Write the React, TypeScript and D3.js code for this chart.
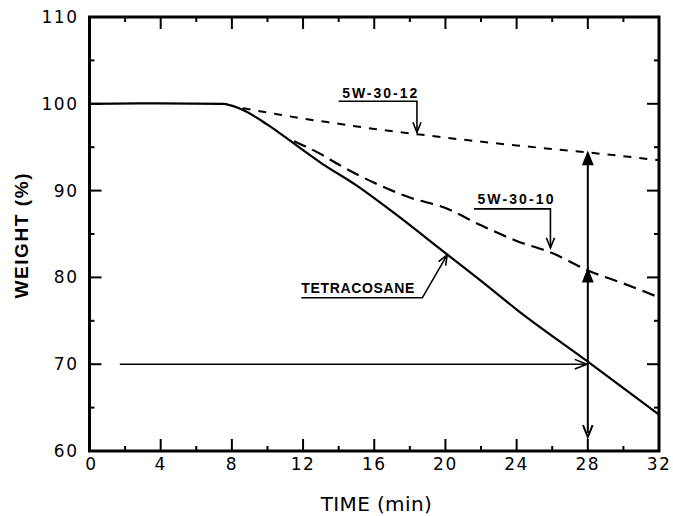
import * as d3 from 'd3';

// Data
const tetraTime = [0, 4, 7.5, 8.5, 10, 11.5, 13, 15, 17, 20, 22, 24, 28, 32];
const tetraWeight = [100, 100.05, 100, 99.4, 97.6, 95.4, 93.2, 90.6, 87.6, 82.8, 79.6, 76.3, 70.3, 64.2];

const w10Time = [11.5, 13, 14, 16, 18, 20, 22, 24, 26, 28, 30, 32];
const w10Weight = [95.7, 94.2, 93.0, 90.9, 89.2, 88.0, 86.0, 84.2, 82.8, 80.8, 79.3, 77.7];

const w12Time = [8.6, 10, 12, 14, 16, 18.4, 20, 24, 28, 32];
const w12Weight = [99.5, 99.0, 98.3, 97.7, 97.1, 96.5, 96.1, 95.2, 94.4, 93.5];

const xTicks = [0, 4, 8, 12, 16, 20, 24, 28, 32];
const xMinor = [2, 6, 10, 14, 18, 22, 26, 30];
const yTicks = [60, 70, 80, 90, 100, 110];
const yMinor = [65, 75, 85, 95, 105];

const W = 673;
const H = 516;
const M = { left: 89.5, right: 14, top: 17, bottom: 65 };

type Pt = [number, number];

function arrowHead(tip: Pt, from: Pt, size: number, filled: boolean) {
  const a = Math.atan2(tip[1] - from[1], tip[0] - from[0]);
  const s = 0.38;
  const p1: Pt = [tip[0] - size * Math.cos(a - s), tip[1] - size * Math.sin(a - s)];
  const p2: Pt = [tip[0] - size * Math.cos(a + s), tip[1] - size * Math.sin(a + s)];
  return filled
    ? `M${p1[0]},${p1[1]}L${tip[0]},${tip[1]}L${p2[0]},${p2[1]}Z`
    : `M${p1[0]},${p1[1]}L${tip[0]},${tip[1]}L${p2[0]},${p2[1]}`;
}

export default function App() {
  const x = d3.scaleLinear().domain([0, 32]).range([M.left, W - M.right]);
  const y = d3.scaleLinear().domain([60, 110]).range([H - M.bottom, M.top]);

  const line = d3
    .line<[number, number]>()
    .x((d) => x(d[0]))
    .y((d) => y(d[1]))
    .curve(d3.curveMonotoneX);

  const tetra = tetraTime.map((t, i) => [t, tetraWeight[i]] as [number, number]);
  const w10 = w10Time.map((t, i) => [t, w10Weight[i]] as [number, number]);
  const w12 = w12Time.map((t, i) => [t, w12Weight[i]] as [number, number]);

  const x0 = x(0);
  const x1 = x(32);
  const y0 = y(60);
  const y1 = y(110);

  const labelFont = "'Liberation Sans', Arial, sans-serif";
  const tickFont = "'DejaVu Sans', sans-serif";

  // annotation anchors (data units)
  const lbl12 = { tx: 14.2, ty: 100.65, ux0: 14.0, ux1: 18.4, uy: 100.3, tipY: 96.7 };
  const lbl10 = { tx: 21.8, ty: 88.5, ux0: 21.6, ux1: 25.9, uy: 87.9, tipY: 83.4 };
  const lblT = { tx: 11.9, ty: 78.2, ux0: 11.9, ux1: 18.7, uy: 77.65, tipX: 20.1, tipY: 82.6 };

  const vTop = y(94.4);
  const vMid = y(80.9);
  const vBot = y(61.6);
  const vx = x(28);
  const hy = y(70);
  const hx0 = x(1.7);

  return (
    <svg width={W} height={H} style={{ position: 'absolute', left: 0, top: 0, background: '#fff' }}>
      {/* ticks */}
      {xTicks.map((t) => (
        <g key={'xt' + t} stroke="#000" strokeWidth={2}>
          <line x1={x(t)} x2={x(t)} y1={y0} y2={y0 - 12} />
          <line x1={x(t)} x2={x(t)} y1={y1} y2={y1 + 12} />
        </g>
      ))}
      {xMinor.map((t) => (
        <g key={'xm' + t} stroke="#000" strokeWidth={2}>
          <line x1={x(t)} x2={x(t)} y1={y0} y2={y0 - 5} />
          <line x1={x(t)} x2={x(t)} y1={y1} y2={y1 + 5} />
        </g>
      ))}
      {yTicks.map((v) => (
        <g key={'yt' + v} stroke="#000" strokeWidth={2}>
          <line x1={x0} x2={x0 + 12} y1={y(v)} y2={y(v)} />
          <line x1={x1} x2={x1 - 12} y1={y(v)} y2={y(v)} />
        </g>
      ))}
      {yMinor.map((v) => (
        <g key={'ym' + v} stroke="#000" strokeWidth={2}>
          <line x1={x0} x2={x0 + 5} y1={y(v)} y2={y(v)} />
          <line x1={x1} x2={x1 - 5} y1={y(v)} y2={y(v)} />
        </g>
      ))}

      {/* frame */}
      <rect x={x0} y={y1} width={x1 - x0} height={y0 - y1} fill="none" stroke="#000" strokeWidth={3} />

      {/* tick labels */}
      {xTicks.map((t) => (
        <text
          key={'xl' + t}
          x={x(t) + (t === 0 ? 2 : 0)}
          y={y0 + 19}
          textAnchor="middle"
          fontFamily={tickFont}
          fontSize={17}
          letterSpacing={1.5}
          fill="#000"
        >
          {t}
        </text>
      ))}
      {yTicks.map((v) => (
        <text
          key={'yl' + v}
          x={x0 - 11}
          y={y(v) + 6}
          textAnchor="end"
          fontFamily={tickFont}
          fontSize={17}
          letterSpacing={1.5}
          fill="#000"
        >
          {v}
        </text>
      ))}

      {/* axis titles */}
      <text
        x={(x0 + x1) / 2 + 2}
        y={H - 5}
        textAnchor="middle"
        fontFamily={tickFont}
        fontSize={20}
        textLength={111}
        lengthAdjust="spacing"
        fill="#000"
      >
        TIME  (min)
      </text>
      <text
        transform={`translate(28,${(y0 + y1) / 2 + 2}) rotate(-90)`}
        textAnchor="middle"
        fontFamily={labelFont}
        fontWeight="bold"
        fontSize={19}
        textLength={125}
        lengthAdjust="spacing"
        fill="#000"
      >
        WEIGHT  (%)
      </text>

      {/* curves */}
      <path d={line(tetra) ?? ''} fill="none" stroke="#000" strokeWidth={2.2} />
      <path d={line(w10) ?? ''} fill="none" stroke="#000" strokeWidth={2.2} strokeDasharray="13,7" />
      <path d={line(w12) ?? ''} fill="none" stroke="#000" strokeWidth={2} strokeDasharray="8,8" />

      {/* horizontal arrow at 70% */}
      <line x1={hx0} x2={vx - 1} y1={hy} y2={hy} stroke="#000" strokeWidth={1.6} />
      <path d={arrowHead([vx - 1, hy], [hx0, hy], 13, false)} fill="none" stroke="#000" strokeWidth={1.6} />

      {/* vertical arrow at 28 min */}
      <line x1={vx} x2={vx} y1={vTop + 4} y2={vBot - 4} stroke="#000" strokeWidth={2} />
      <path d={arrowHead([vx, vTop], [vx, vBot], 13, true)} fill="#000" stroke="#000" strokeWidth={1.5} />
      <path d={arrowHead([vx, vMid], [vx, vBot], 13, true)} fill="#000" stroke="#000" strokeWidth={1.5} />
      <path d={arrowHead([vx, vBot], [vx, vTop], 13, false)} fill="none" stroke="#000" strokeWidth={2} />

      {/* label 5W-30-12 */}
      <text x={x(lbl12.tx)} y={y(lbl12.ty)} fontFamily={labelFont} fontWeight="bold" fontSize={14} textLength={75} lengthAdjust="spacing">
        5W-30-12
      </text>
      <path
        d={`M${x(lbl12.ux0)},${y(lbl12.uy)}L${x(lbl12.ux1)},${y(lbl12.uy)}L${x(lbl12.ux1)},${y(lbl12.tipY)}`}
        fill="none"
        stroke="#000"
        strokeWidth={1.6}
      />
      <path d={arrowHead([x(lbl12.ux1), y(lbl12.tipY)], [x(lbl12.ux1), y(lbl12.uy)], 11, false)} fill="none" stroke="#000" strokeWidth={1.6} />

      {/* label 5W-30-10 */}
      <text x={x(lbl10.tx)} y={y(lbl10.ty)} fontFamily={labelFont} fontWeight="bold" fontSize={14} textLength={76} lengthAdjust="spacing">
        5W-30-10
      </text>
      <path
        d={`M${x(lbl10.ux0)},${y(lbl10.uy)}L${x(lbl10.ux1)},${y(lbl10.uy)}L${x(lbl10.ux1)},${y(lbl10.tipY)}`}
        fill="none"
        stroke="#000"
        strokeWidth={1.6}
      />
      <path d={arrowHead([x(lbl10.ux1), y(lbl10.tipY)], [x(lbl10.ux1), y(lbl10.uy)], 11, false)} fill="none" stroke="#000" strokeWidth={1.6} />

      {/* label TETRACOSANE */}
      <text x={x(lblT.tx)} y={y(lblT.ty)} fontFamily={labelFont} fontWeight="bold" fontSize={14} textLength={113} lengthAdjust="spacing">
        TETRACOSANE
      </text>
      <path
        d={`M${x(lblT.ux0)},${y(lblT.uy)}L${x(lblT.ux1)},${y(lblT.uy)}L${x(lblT.tipX)},${y(lblT.tipY)}`}
        fill="none"
        stroke="#000"
        strokeWidth={1.6}
      />
      <path d={arrowHead([x(lblT.tipX), y(lblT.tipY)], [x(lblT.ux1), y(lblT.uy)], 11, false)} fill="none" stroke="#000" strokeWidth={1.6} />
    </svg>
  );
}
